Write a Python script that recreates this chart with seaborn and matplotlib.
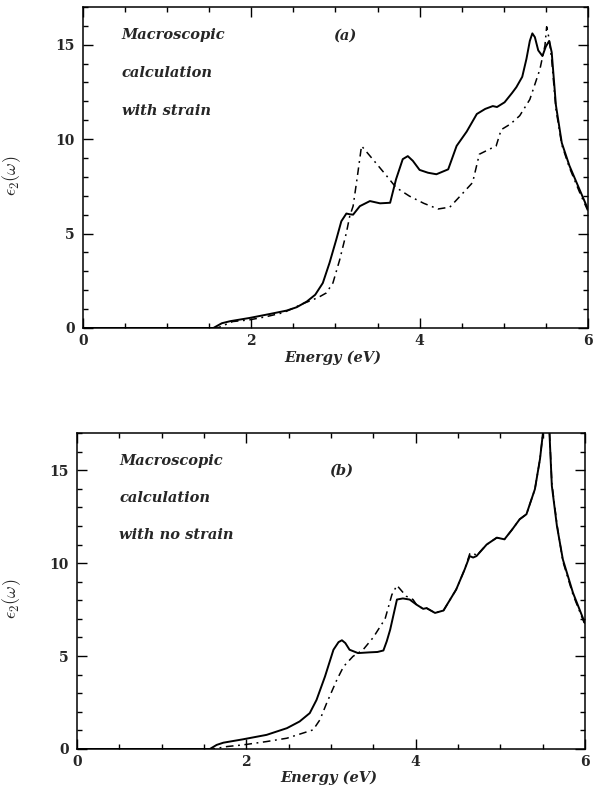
import matplotlib
matplotlib.use("Agg")
import matplotlib.pyplot as plt
import seaborn as sns
import pandas as pd
from matplotlib.ticker import MultipleLocator

# ---------------- data ----------------
# Panel (a): macroscopic calculation with strain
a_solid_E = [0, 1.55, 1.65, 1.75, 1.98, 2.22, 2.42, 2.54, 2.66, 2.76, 2.85, 2.93, 3.01, 3.07,
             3.13, 3.17, 3.21, 3.29, 3.41, 3.53, 3.65, 3.72, 3.80, 3.86, 3.92, 4.00, 4.10,
             4.20, 4.34, 4.44, 4.56, 4.68, 4.78, 4.87, 4.92, 5.01, 5.10, 5.15, 5.22, 5.27,
             5.31, 5.34, 5.37, 5.41, 5.46, 5.50, 5.54, 5.57, 5.62, 5.69, 5.78, 5.90, 6.0]
a_solid_v = [0, 0, 0.25, 0.36, 0.53, 0.74, 0.92, 1.1, 1.4, 1.76, 2.38, 3.45, 4.68, 5.65,
             6.06, 6.02, 6.0, 6.45, 6.72, 6.6, 6.63, 7.87, 8.94, 9.1, 8.85, 8.37, 8.22,
             8.14, 8.4, 9.64, 10.4, 11.33, 11.6, 11.75, 11.7, 11.95, 12.45, 12.75, 13.3, 14.25,
             15.2, 15.6, 15.4, 14.7, 14.4, 14.9, 15.2, 14.6, 11.8, 9.8, 8.6, 7.34, 6.3]

a_dash_E = [0, 1.6, 1.78, 1.98, 2.18, 2.38, 2.5, 2.62, 2.73, 2.81, 2.89, 2.97, 3.05, 3.13,
            3.17, 3.21, 3.26, 3.31, 3.45, 3.6, 3.72, 3.88, 4.05, 4.22, 4.36, 4.5, 4.63,
            4.71, 4.8, 4.91, 4.97, 5.08, 5.19, 5.31, 5.43, 5.49, 5.51, 5.54, 5.57, 5.62,
            5.69, 5.78, 5.90, 6.0]
a_dash_v = [0, 0, 0.34, 0.43, 0.6, 0.81, 1.05, 1.3, 1.49, 1.65, 1.85, 2.38, 3.6, 5.04,
            5.92, 6.45, 8.0, 9.64, 8.9, 8.1, 7.44, 6.98, 6.6, 6.3, 6.4, 7.07, 7.7,
            9.2, 9.4, 9.64, 10.5, 10.8, 11.24, 12.1, 13.7, 14.96, 15.95, 15.3, 14.2, 11.6,
            9.7, 8.5, 7.2, 6.2]

# Panel (b): macroscopic calculation with no strain
b_solid_E = [0, 1.57, 1.65, 1.73, 1.96, 2.24, 2.48, 2.63, 2.75, 2.83, 2.93, 3.03, 3.09,
             3.13, 3.17, 3.22, 3.32, 3.46, 3.55, 3.62, 3.66, 3.70, 3.78, 3.85, 3.93, 4.01,
             4.09, 4.13, 4.18, 4.23, 4.33, 4.48, 4.58, 4.64, 4.68, 4.72, 4.84, 4.96, 5.05,
             5.14, 5.23, 5.31, 5.41, 5.47, 5.51, 5.55, 5.58, 5.61, 5.67, 5.74, 5.86, 6.0]
b_solid_v = [0, 0, 0.22, 0.34, 0.52, 0.76, 1.12, 1.48, 1.93, 2.64, 3.9, 5.34, 5.75,
             5.85, 5.7, 5.34, 5.16, 5.2, 5.22, 5.3, 5.8, 6.42, 8.04, 8.1, 8.04, 7.77,
             7.54, 7.58, 7.45, 7.32, 7.45, 8.58, 9.66, 10.38, 10.3, 10.38, 11.0, 11.37, 11.28,
             11.8, 12.36, 12.63, 13.98, 15.6, 17.2, 18.5, 17.2, 14.16, 12.0, 10.2, 8.4, 6.78]

b_dash_E = [0, 1.61, 1.77, 1.96, 2.24, 2.48, 2.79, 2.87, 2.95, 3.07, 3.15, 3.26, 3.38,
            3.50, 3.64, 3.72, 3.78, 3.89, 3.97, 4.01, 4.09, 4.13, 4.18, 4.23, 4.33, 4.48,
            4.58, 4.64, 4.68, 4.72, 4.84, 4.96, 5.05, 5.14, 5.23, 5.31, 5.41, 5.47, 5.51,
            5.55, 5.58, 5.61, 5.67, 5.74, 5.86, 6.0]
b_dash_v = [0, 0, 0.13, 0.22, 0.4, 0.58, 1.03, 1.57, 2.47, 3.72, 4.44, 4.98, 5.34,
            6.0, 7.0, 8.3, 8.8, 8.22, 8.04, 7.77, 7.54, 7.58, 7.45, 7.32, 7.45, 8.58,
            9.66, 10.5, 10.56, 10.4, 11.0, 11.37, 11.28, 11.8, 12.36, 12.63, 13.98, 15.6, 17.2,
            18.5, 17.3, 14.3, 12.1, 10.1, 8.3, 6.7]

panel_tags = ["(a)", "(b)"]
panel_notes = [["Macroscopic", "calculation", "with strain"],
               ["Macroscopic", "calculation", "with no strain"]]
x_label = "Energy (eV)"
y_label = r"$\epsilon_2(\omega)$"
x_ticks = [0, 2, 4, 6]
y_ticks = [0, 5, 10, 15]

# ---------------- style ----------------
sns.set_style("ticks")
plt.rcParams["font.family"] = ["DejaVu Serif"]
plt.rcParams["mathtext.fontset"] = "cm"

fig = plt.figure(figsize=(5.94, 7.88), dpi=100)
axes = [fig.add_axes([0.1397, 0.5838, 0.850, 0.4074]),
        fig.add_axes([0.1296, 0.0495, 0.855, 0.4010])]

series = [(a_solid_E, a_solid_v, a_dash_E, a_dash_v),
          (b_solid_E, b_solid_v, b_dash_E, b_dash_v)]

note_pos = [[(0.46, 15.5), (0.46, 13.5), (0.46, 11.5)],
            [(0.50, 15.5), (0.50, 13.5), (0.50, 11.5)]]
tag_pos = [(2.97, 15.5), (2.98, 15.0)]
ylab_x = [-0.118, -0.106]
xlab_y = [-0.070, -0.068]

for i, ax in enumerate(axes):
    sE, sv, dE, dv = series[i]
    df_s = pd.DataFrame({"E": sE, "eps": sv})
    df_d = pd.DataFrame({"E": dE, "eps": dv})
    sns.lineplot(data=df_s, x="E", y="eps", ax=ax, color="black", lw=1.4,
                 estimator=None, sort=False)
    sns.lineplot(data=df_d, x="E", y="eps", ax=ax, color="black", lw=1.1,
                 estimator=None, sort=False)
    ax.get_lines()[-1].set_linestyle((0, (5, 3, 1.2, 3)))

    ax.set_xlim(0, 6)
    ax.set_ylim(0, 17)
    ax.set_xticks(x_ticks)
    ax.set_yticks(y_ticks)
    ax.set_xticklabels([str(t) for t in x_ticks], fontweight="bold", fontsize=10)
    ax.set_yticklabels([str(t) for t in y_ticks], fontweight="bold", fontsize=10)
    ax.xaxis.set_minor_locator(MultipleLocator(0.5))
    ax.yaxis.set_minor_locator(MultipleLocator(1))
    ax.tick_params(which="both", direction="in", top=True, right=True,
                   width=1.0, color="black")
    ax.tick_params(which="major", length=7)
    ax.tick_params(which="minor", length=3.5)
    ax.tick_params(axis="x", which="major", pad=4)
    ax.tick_params(axis="y", which="major", pad=6)
    for sp in ax.spines.values():
        sp.set_visible(True)
        sp.set_linewidth(1.1)
        sp.set_color("black")

    ax.set_xlabel(x_label, fontsize=10.5, fontweight="bold", fontstyle="italic")
    ax.xaxis.set_label_coords(0.495, xlab_y[i])
    ax.set_ylabel(y_label, fontsize=13)
    ax.yaxis.set_label_coords(ylab_x[i], 0.475)

    for (tx, ty), s in zip(note_pos[i], panel_notes[i]):
        ax.text(tx, ty, s, fontsize=10.5, fontweight="bold", fontstyle="italic",
                va="center", ha="left")
    ax.text(tag_pos[i][0], tag_pos[i][1], panel_tags[i], fontsize=10.5,
            fontweight="bold", fontstyle="italic", va="center", ha="left")

fig.savefig("out.png", dpi=100, facecolor="white")
